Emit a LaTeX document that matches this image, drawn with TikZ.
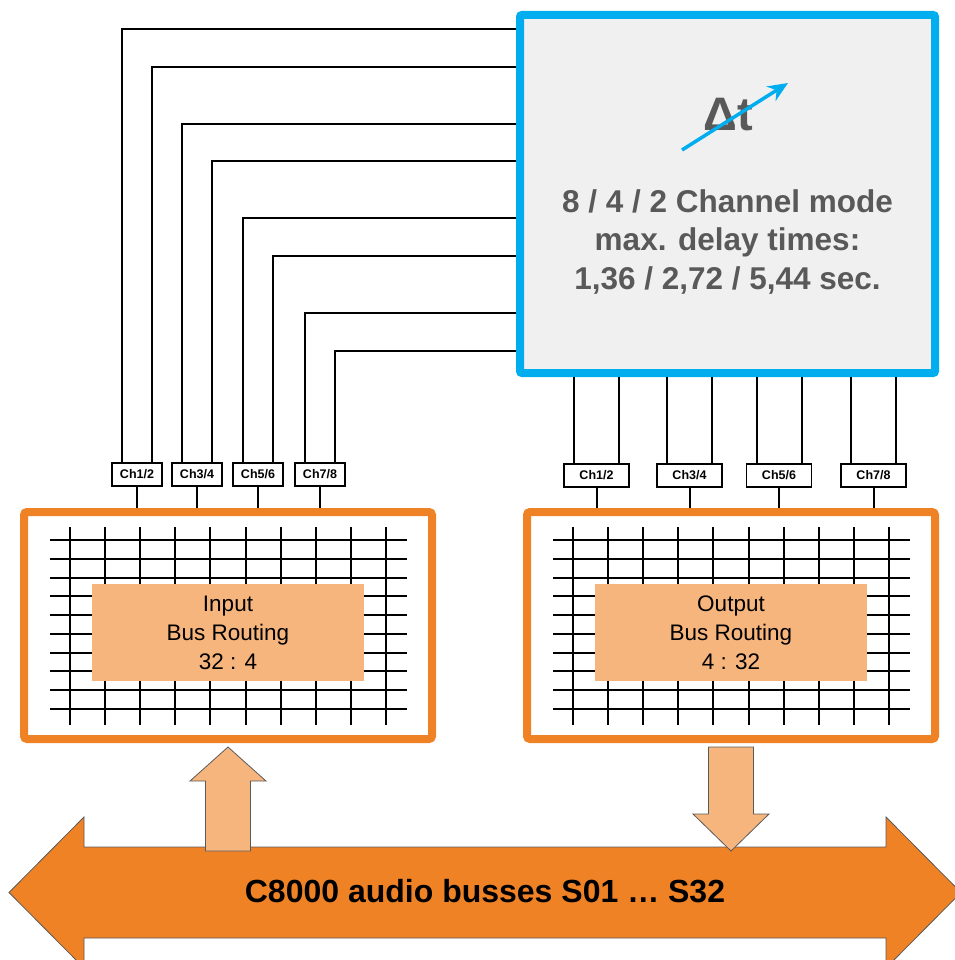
\documentclass[tikz,border=0pt]{standalone}
\usepackage{fontspec}
\setmainfont{Liberation Sans}
\usetikzlibrary{arrows.meta}
\definecolor{delayblue}{HTML}{00AEEF}
\definecolor{busorange}{HTML}{F08226}
\definecolor{lightorange}{HTML}{F7B57E}
\definecolor{panelgray}{HTML}{F0F0F0}
\definecolor{textgray}{HTML}{595959}
\definecolor{edgegray}{HTML}{5A5A5A}

\begin{document}
\begin{tikzpicture}[
					x = 1pt, y = -1pt,
					delaybox/.style = {
						shape = rectangle,
						draw = delayblue,
						fill = panelgray,
						line width = 8pt,
						rounded corners = 2pt,
						minimum width = 415pt,
						minimum height = 358pt,
						inner sep = 0pt,
					},
					routebox/.style = {
						shape = rectangle,
						draw = busorange,
						fill = white,
						line width = 8pt,
						rounded corners = 3pt,
						minimum width = 408pt,
						minimum height = 227pt,
						inner sep = 0pt,
					},
					lblbox/.style = {
						shape = rectangle,
						fill = lightorange,
						minimum width = 272pt,
						minimum height = 97pt,
						align = center,
						font = \fontsize{22.5}{29}\selectfont,
					},
					chbox/.style = {
						shape = rectangle,
						draw,
						fill = white,
						line width = 1.5pt,
						minimum height = 23pt,
						inner sep = 0pt,
						font = \fontsize{12.5}{14}\selectfont\bfseries,
					},
					wire/.style = {line width = 2pt},
					gridline/.style = {line width = 2pt},
					fatarrow/.style = {fill = lightorange, draw = edgegray, line width = 0.8pt},
			]
				\useasboundingbox (0, 0) rectangle (954, 960);

				% delay unit
				\draw (727.5, 194) node (delay) [delaybox] {};
				\draw (728, 115) node (dt) [text = textgray, font = \fontsize{47}{50}\selectfont\bfseries] {Δt};
				\coordinate (dtfrom) at (682, 150);
				\coordinate (dtto) at (788, 83);
				\draw [delayblue, line width = 3.5pt, -{Stealth[length = 20pt, width = 17pt]}] (dtfrom) -- (dtto);
				\draw (727.5, 242) node (mode) [text = textgray, align = center, font = \fontsize{31.5}{38.5}\selectfont\bfseries]
					{8 / 4 / 2 Channel mode\\max. delay times:\\1,36 / 2,72 / 5,44 sec.};

				% routing boxes
				\draw (228, 625.5) node (inrt) [routebox] {};
				\draw (731, 625.5) node (outrt) [routebox] {};
				\foreach \b in {inrt, outrt} {
					\begin{scope}[shift = {(\b.center)}]
						\foreach \k in {0, ..., 9} {
							\draw [gridline] (-178, -85.5 + \k * 18.78) -- (179, -85.5 + \k * 18.78);
							\draw [gridline] (-158 + \k * 35.1, -98.5) -- (-158 + \k * 35.1, 99.5);
						}
					\end{scope}
				}
				\draw ([yshift = -7pt]inrt.center) node (inlbl) [lblbox] {Input\\Bus Routing\\32 : 4};
				\draw ([yshift = -7pt]outrt.center) node (outlbl) [lblbox] {Output\\Bus Routing\\4 : 32};

				% channel pairs
				\draw (137, 474.5) node (ich1) [chbox, minimum width = 50pt] {Ch1/2};
				\draw (197, 474.5) node (ich2) [chbox, minimum width = 50pt] {Ch3/4};
				\draw (258, 474.5) node (ich3) [chbox, minimum width = 50pt] {Ch5/6};
				\draw (320, 474.5) node (ich4) [chbox, minimum width = 50pt] {Ch7/8};
				\draw (596.5, 475.5) node (och1) [chbox, minimum width = 65pt] {Ch1/2};
				\draw (689.5, 475.5) node (och2) [chbox, minimum width = 65pt] {Ch3/4};
				\draw (779, 475.5) node (och3) [chbox, minimum width = 65pt] {Ch5/6};
				\draw (873.5, 475.5) node (och4) [chbox, minimum width = 65pt] {Ch7/8};

				\foreach \c/\dx/\dy in {ich1/-15/18, ich1/15/56, ich2/-15/113, ich2/15/150,
						ich3/-15/207, ich3/15/245, ich4/-15/302, ich4/15/340}
					\draw [wire] ([xshift = \dx pt]\c.north) |- ([yshift = -\dy pt]delay.north west);
				\foreach \c in {och1, och2, och3, och4} {
					\draw [wire] ([xshift = -22.5pt]\c.north) -- ([xshift = -22.5pt]\c.north |- delay.south);
					\draw [wire] ([xshift = 22.5pt]\c.north) -- ([xshift = 22.5pt]\c.north |- delay.south);
				}
				\foreach \c in {ich1, ich2, ich3, ich4}
					\draw [wire] (\c.south) -- (\c.south |- inrt.north);
				\foreach \c in {och1, och2, och3, och4}
					\draw [wire] (\c.south) -- (\c.south |- outrt.north);

				% audio busses
				\filldraw [fill = busorange, draw = edgegray, line width = 0.8pt]
					(9, 892.5) -- (84, 817) -- (84, 847) -- (886, 847) -- (886, 817) -- (961, 892.5)
					-- (886, 968) -- (886, 938) -- (84, 938) -- (84, 968) -- cycle;
				\draw (485, 891.5) node (bus) [font = \fontsize{32}{36}\selectfont\bfseries] {C8000 audio busses S01 … S32};

				\filldraw [fatarrow] ([yshift = -4pt]inrt.south) -- ++(38, 34) -- ++(-15.5, 0) -- ++(0, 70)
					-- ++(-45, 0) -- ++(0, -70) -- ++(-15.5, 0) -- cycle;
				\filldraw [fatarrow] ([yshift = -4pt]outrt.south) ++(-22.5, 0) -- ++(0, 67) -- ++(-15.5, 0)
					-- ++(38, 37) -- ++(38, -37) -- ++(-15.5, 0) -- ++(0, -67) -- cycle;
			\end{tikzpicture}
\end{document}
